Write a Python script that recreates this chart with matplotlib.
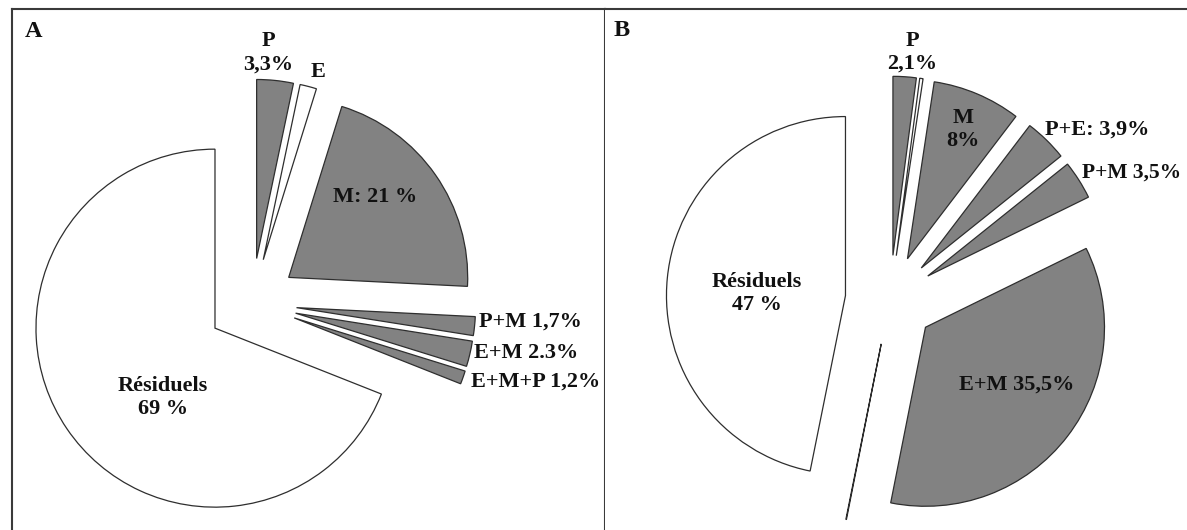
import matplotlib
matplotlib.use("Agg")
import matplotlib.pyplot as plt

# ---- data ----
# Panel A (counter-clockwise from the top)
a_labels = ["Résiduels", "E+M+P", "E+M", "P+M", "M", "E", "P"]
a_values = [69, 1.2, 2.3, 1.7, 21, 1.5, 3.3]
a_colors = ["white", "grey", "grey", "grey", "grey", "white", "grey"]

# Panel B (counter-clockwise from the top)
b_labels = ["Résiduels", "E", "E+M", "P+M", "P+E", "M", "P+M+E", "P"]
b_values = [47, 0.05, 35.5, 3.5, 3.9, 8, 0.3, 2.1]
b_colors = ["white", "white", "grey", "grey", "grey", "grey", "white", "grey"]

FILL = {"grey": "#828282", "white": "#ffffff"}
EDGE = "#2e2e2e"
FONT = "Liberation Serif"

W, H = 1187, 530
fig = plt.figure(figsize=(W / 100, H / 100), dpi=100)
fig.patch.set_facecolor("white")

R = 179.0  # pie radius in pixels


def make_axes(x0, x1, cx, cy):
    ax = fig.add_axes([x0 / W, 0, (x1 - x0) / W, (H - 9) / H])
    return ax, ((x0 - cx) / R, (x1 - cx) / R), ((cy - H) / R, (cy - 9) / R)


def draw_pie(ax, values, colors, explode, xlim, ylim):
    ax.pie(values, colors=[FILL[c] for c in colors], startangle=90,
           counterclock=True, explode=explode, radius=1.0,
           wedgeprops=dict(edgecolor=EDGE, linewidth=0.9), normalize=True)
    ax.set_xlim(*xlim)
    ax.set_ylim(*ylim)
    ax.set_aspect("auto")
    ax.set_xticks([])
    ax.set_yticks([])
    ax.set_frame_on(True)
    for s in ax.spines.values():
        s.set_color("#3a3a3a")
        s.set_linewidth(1.5)


def txt(ax, x, y, s, ha="center", size=16):
    ax.text(x, y, s, ha=ha, va="center", fontsize=size, fontweight="bold",
            family=FONT, color="#111111", linespacing=1.2)


# ---- Panel A ----
axA, xlA, ylA = make_axes(12, 605, 252, 303)
draw_pie(axA, a_values, a_colors, [0.25] * len(a_values), xlA, ylA)
axA.spines["bottom"].set_visible(False)
txt(axA, -1.223, 1.514, "A", size=17.5)
txt(axA, 0.089, 1.397, "P\n3,3%")
txt(axA, 0.369, 1.291, "E")
txt(axA, 0.687, 0.592, "M: 21 %")
txt(axA, 1.268, -0.106, "P+M 1,7%", ha="left")
txt(axA, 1.240, -0.279, "E+M 2.3%", ha="left")
txt(axA, 1.223, -0.441, "E+M+P 1,2%", ha="left")
txt(axA, -0.497, -0.530, "Résiduels\n69 %")

# ---- Panel B ----
axB, xlB, ylB = make_axes(605, W, 890, 300)
draw_pie(axB, b_values, b_colors, [0.25] * len(b_values), xlB, ylB)
axB.spines["bottom"].set_visible(False)
axB.spines["left"].set_visible(False)
axB.spines["right"].set_visible(False)
txt(axB, -1.497, 1.508, "B", size=17.5)
txt(axB, 0.123, 1.385, "P\n2,1%")
txt(axB, 0.408, 0.950, "M\n8%")
txt(axB, 0.866, 0.950, "P+E: 3,9%", ha="left")
txt(axB, 1.072, 0.709, "P+M 3,5%", ha="left", size=15.5)
txt(axB, 0.709, -0.475, "E+M 35,5%")
txt(axB, -0.743, 0.039, "Résiduels\n47 %")

fig.savefig("out.png", dpi=100, facecolor="white")
